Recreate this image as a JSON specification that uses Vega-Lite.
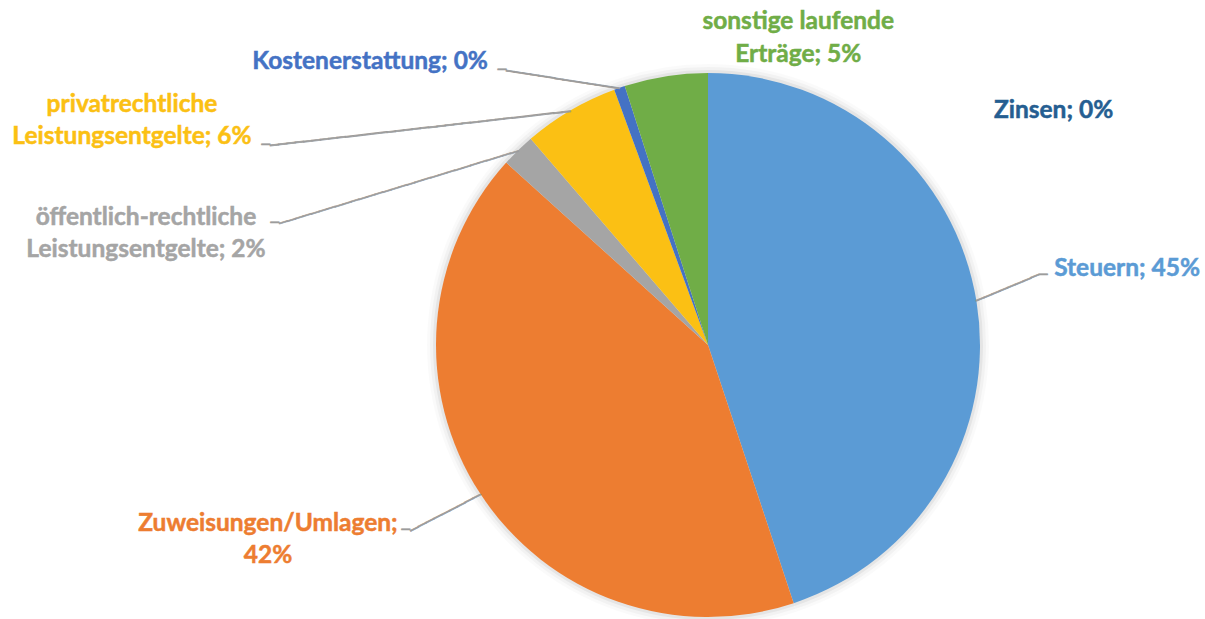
{
  "$schema": "https://vega.github.io/schema/vega-lite/v6.json",
  "width": 544,
  "height": 544,
  "autosize": "none",
  "padding": {"left": 436, "top": 73, "right": 225, "bottom": 2},
  "background": "white",
  "config": {"view": {"stroke": null}},
  "data": {
    "values": [
      {"name": "Steuern", "value": 44.9, "rank": 1, "label": "Steuern; 45%"},
      {"name": "Zinsen", "value": 0, "rank": 2, "label": "Zinsen; 0%"},
      {"name": "Zuweisungen/Umlagen", "value": 41.8, "rank": 3, "label": "Zuweisungen/Umlagen;\n42%"},
      {"name": "öffentlich-rechtliche Leistungsentgelte", "value": 2.0, "rank": 4, "label": "öffentlich-rechtliche\nLeistungsentgelte; 2%"},
      {"name": "privatrechtliche Leistungsentgelte", "value": 5.7, "rank": 5, "label": "privatrechtliche\nLeistungsentgelte; 6%"},
      {"name": "Kostenerstattung", "value": 0.65, "rank": 6, "label": "Kostenerstattung; 0%"},
      {"name": "sonstige laufende Erträge", "value": 4.95, "rank": 7, "label": "sonstige laufende\nErträge; 5%"}
    ]
  },
  "encoding": {
    "theta": {"field": "value", "type": "quantitative", "stack": true},
    "order": {"field": "rank", "type": "quantitative"},
    "detail": {"field": "name", "type": "nominal"}
  },
  "layer": [
    {"mark": {"type": "arc", "radius": 281, "color": "black", "opacity": 0.02}},
    {"mark": {"type": "arc", "radius": 278, "color": "black", "opacity": 0.03}},
    {"mark": {"type": "arc", "radius": 275, "color": "black", "opacity": 0.05}},
    {
      "mark": {"type": "arc", "radius": 272},
      "encoding": {
        "color": {
          "field": "name", "type": "nominal", "legend": null,
          "scale": {
            "domain": ["Steuern", "Zinsen", "Zuweisungen/Umlagen", "öffentlich-rechtliche Leistungsentgelte", "privatrechtliche Leistungsentgelte", "Kostenerstattung", "sonstige laufende Erträge"],
            "range": ["#5B9BD5", "#255E91", "#ED7D31", "#A5A5A5", "#FBC014", "#4472C4", "#70AD47"]
          }
        }
      }
    },
    {
      "mark": {"type": "text", "radius": 272, "align": "left", "baseline": "middle", "font": "DejaVu Sans Mono", "fontSize": 14.1, "angle": -22.7, "color": "#9C9C9C", "stroke": "#9C9C9C", "strokeWidth": 0.7},
      "encoding": {"text": {"condition": {"test": "datum.name === 'Steuern'", "value": "────────"}, "value": ""}}
    },
    {
      "mark": {"type": "text", "radius": 272, "align": "left", "baseline": "middle", "font": "DejaVu Sans Mono", "fontSize": 14, "dx": 62.6, "dy": -26.2, "color": "#9C9C9C", "stroke": "#9C9C9C", "strokeWidth": 0.7},
      "encoding": {"text": {"condition": {"test": "datum.name === 'Steuern'", "value": "─"}, "value": ""}}
    },
    {
      "mark": {"type": "text", "radius": 272, "align": "left", "baseline": "middle", "font": "DejaVu Sans Mono", "fontSize": 14.6, "angle": 152.6, "color": "#9C9C9C", "stroke": "#9C9C9C", "strokeWidth": 0.7},
      "encoding": {"text": {"condition": {"test": "datum.name === 'Zuweisungen/Umlagen'", "value": "─────────"}, "value": ""}}
    },
    {
      "mark": {"type": "text", "radius": 272, "align": "right", "baseline": "middle", "font": "DejaVu Sans Mono", "fontSize": 14, "dx": -70.2, "dy": 36.4, "color": "#9C9C9C", "stroke": "#9C9C9C", "strokeWidth": 0.7},
      "encoding": {"text": {"condition": {"test": "datum.name === 'Zuweisungen/Umlagen'", "value": "─"}, "value": ""}}
    },
    {
      "mark": {"type": "text", "radius": 272, "align": "left", "baseline": "middle", "font": "DejaVu Sans Mono", "fontSize": 13.84, "angle": 163.1, "color": "#9C9C9C", "stroke": "#9C9C9C", "strokeWidth": 0.7},
      "encoding": {"text": {"condition": {"test": "datum.name === 'öffentlich-rechtliche Leistungsentgelte'", "value": "──────────────────────────────"}, "value": ""}}
    },
    {
      "mark": {"type": "text", "radius": 272, "align": "right", "baseline": "middle", "font": "DejaVu Sans Mono", "fontSize": 14, "dx": -239.1, "dy": 72.7, "color": "#9C9C9C", "stroke": "#9C9C9C", "strokeWidth": 0.7},
      "encoding": {"text": {"condition": {"test": "datum.name === 'öffentlich-rechtliche Leistungsentgelte'", "value": "─"}, "value": ""}}
    },
    {
      "mark": {"type": "text", "radius": 272, "align": "left", "baseline": "middle", "font": "DejaVu Sans Mono", "fontSize": 13.94, "angle": 173.5, "color": "#9C9C9C", "stroke": "#9C9C9C", "strokeWidth": 0.7},
      "encoding": {"text": {"condition": {"test": "datum.name === 'privatrechtliche Leistungsentgelte'", "value": "────────────────────────────────────"}, "value": ""}}
    },
    {
      "mark": {"type": "text", "radius": 272, "align": "right", "baseline": "middle", "font": "DejaVu Sans Mono", "fontSize": 14, "dx": -300.3, "dy": 34.1, "color": "#9C9C9C", "stroke": "#9C9C9C", "strokeWidth": 0.7},
      "encoding": {"text": {"condition": {"test": "datum.name === 'privatrechtliche Leistungsentgelte'", "value": "─"}, "value": ""}}
    },
    {
      "mark": {"type": "text", "radius": 272, "align": "left", "baseline": "middle", "font": "DejaVu Sans Mono", "fontSize": 13.6, "angle": 189.0, "color": "#9C9C9C", "stroke": "#9C9C9C", "strokeWidth": 0.7},
      "encoding": {"text": {"condition": {"test": "datum.name === 'Kostenerstattung'", "value": "──────────────"}, "value": ""}}
    },
    {
      "mark": {"type": "text", "radius": 272, "align": "right", "baseline": "middle", "font": "DejaVu Sans Mono", "fontSize": 14, "dx": -113.2, "dy": -18, "color": "#9C9C9C", "stroke": "#9C9C9C", "strokeWidth": 0.7},
      "encoding": {"text": {"condition": {"test": "datum.name === 'Kostenerstattung'", "value": "─"}, "value": ""}}
    },
    {
      "mark": {"type": "text", "radius": 272, "align": "center", "baseline": "alphabetic", "font": "Lato", "fontWeight": "bold", "fontSize": 24.5, "lineBreak": "\n", "lineHeight": 32.5, "dx": 150.6, "dy": -25.2, "color": "#5B9BD5", "stroke": "#5B9BD5", "strokeWidth": 0.5},
      "encoding": {"text": {"condition": {"test": "datum.name === 'Steuern'", "field": "label", "type": "nominal"}, "value": ""}}
    },
    {
      "mark": {"type": "text", "radius": 272, "align": "center", "baseline": "alphabetic", "font": "Lato", "fontWeight": "bold", "fontSize": 24.5, "lineBreak": "\n", "lineHeight": 32.5, "dx": 259.9, "dy": -485, "color": "#255E91", "stroke": "#255E91", "strokeWidth": 0.5},
      "encoding": {"text": {"condition": {"test": "datum.name === 'Zinsen'", "field": "label", "type": "nominal"}, "value": ""}}
    },
    {
      "mark": {"type": "text", "radius": 272, "align": "center", "baseline": "alphabetic", "font": "Lato", "fontWeight": "bold", "fontSize": 24.5, "lineBreak": "\n", "lineHeight": 32.5, "dx": -212.2, "dy": 37.1, "color": "#ED7D31", "stroke": "#ED7D31", "strokeWidth": 0.5},
      "encoding": {"text": {"condition": {"test": "datum.name === 'Zuweisungen/Umlagen'", "field": "label", "type": "nominal"}, "value": ""}}
    },
    {
      "mark": {"type": "text", "radius": 272, "align": "center", "baseline": "alphabetic", "font": "Lato", "fontWeight": "bold", "fontSize": 24.5, "lineBreak": "\n", "lineHeight": 32.5, "dx": -372.1, "dy": 74.7, "color": "#A5A5A5", "stroke": "#A5A5A5", "strokeWidth": 0.5},
      "encoding": {"text": {"condition": {"test": "datum.name === 'öffentlich-rechtliche Leistungsentgelte'", "field": "label", "type": "nominal"}, "value": ""}}
    },
    {
      "mark": {"type": "text", "radius": 272, "align": "center", "baseline": "alphabetic", "font": "Lato", "fontWeight": "bold", "fontSize": 24.5, "lineBreak": "\n", "lineHeight": 32.5, "dx": -438.3, "dy": 1.3, "color": "#FBC014", "stroke": "#FBC014", "strokeWidth": 0.5},
      "encoding": {"text": {"condition": {"test": "datum.name === 'privatrechtliche Leistungsentgelte'", "field": "label", "type": "nominal"}, "value": ""}}
    },
    {
      "mark": {"type": "text", "radius": 272, "align": "center", "baseline": "alphabetic", "font": "Lato", "fontWeight": "bold", "fontSize": 24.5, "lineBreak": "\n", "lineHeight": 32.5, "dx": -249.4, "dy": -18.4, "color": "#4472C4", "stroke": "#4472C4", "strokeWidth": 0.5},
      "encoding": {"text": {"condition": {"test": "datum.name === 'Kostenerstattung'", "field": "label", "type": "nominal"}, "value": ""}}
    },
    {
      "mark": {"type": "text", "radius": 272, "align": "center", "baseline": "alphabetic", "font": "Lato", "fontWeight": "bold", "fontSize": 24.5, "lineBreak": "\n", "lineHeight": 32.5, "dx": 132.4, "dy": -46.9, "color": "#70AD47", "stroke": "#70AD47", "strokeWidth": 0.5},
      "encoding": {"text": {"condition": {"test": "datum.name === 'sonstige laufende Erträge'", "field": "label", "type": "nominal"}, "value": ""}}
    }
  ]
}
